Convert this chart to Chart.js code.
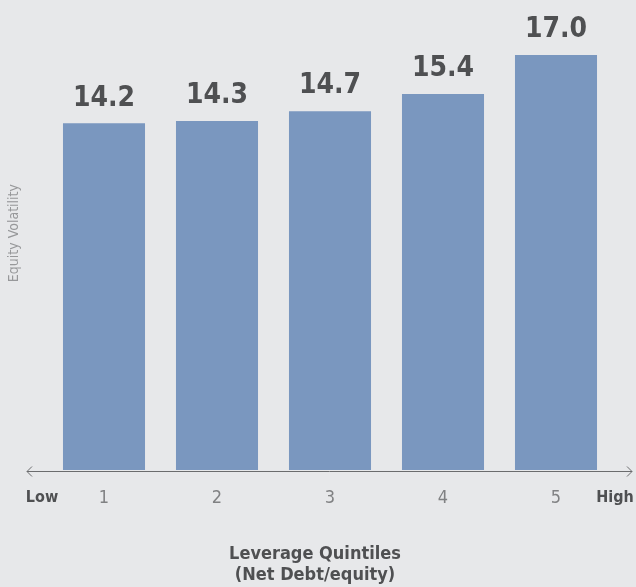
<!DOCTYPE html>
<html>
<head>
<meta charset="utf-8">
<script src="https://cdn.jsdelivr.net/npm/chart.js@4/dist/chart.umd.min.js"></script>
<style>
  html, body { margin: 0; padding: 0; background: #e7e8ea; }
  #wrap { width: 636px; height: 587px; position: relative; }
</style>
</head>
<body>
<div id="wrap"><canvas id="c" width="636" height="587"></canvas></div>
<script>
const categories = ['1', '2', '3', '4', '5'];
const volatility = [14.2, 14.3, 14.7, 15.4, 17.0];
const xTitle = ['Leverage Quintiles', '(Net Debt/equity)'];
const yTitle = 'Equity Volatility';
const lowLabel = 'Low';
const highLabel = 'High';

const FONT = '"Liberation Sans Narrow", "DejaVu Sans Condensed", "Liberation Sans", sans-serif';

const decor = {
  id: 'decor',
  afterDatasetsDraw(chart) {
    const ctx = chart.ctx;
    const area = chart.chartArea;
    const meta = chart.getDatasetMeta(0);
    ctx.save();
    // value labels
    ctx.fillStyle = '#4f5052';
    ctx.font = 'bold 28px ' + FONT;
    ctx.textAlign = 'center';
    ctx.textBaseline = 'middle';
    meta.data.forEach((bar, i) => {
      ctx.fillText(volatility[i].toFixed(1), bar.x, bar.y - 25);
    });
    // axis line with arrows
    const y = area.bottom + 1;
    const x0 = 27, x1 = 632;
    ctx.strokeStyle = '#6b6c6e';
    ctx.lineWidth = 1;
    ctx.beginPath();
    ctx.moveTo(x0, y + 0.5); ctx.lineTo(x1, y + 0.5);
    ctx.moveTo(x0 + 5, y - 4.5); ctx.lineTo(x0, y + 0.5); ctx.lineTo(x0 + 5, y + 5.5);
    ctx.moveTo(x1 - 5, y - 4.5); ctx.lineTo(x1, y + 0.5); ctx.lineTo(x1 - 5, y + 5.5);
    ctx.stroke();
    // Low / High
    ctx.fillStyle = '#4f5052';
    ctx.font = 'bold 16px ' + FONT;
    ctx.fillText(lowLabel, 42, 498);
    ctx.fillText(highLabel, 615, 498);
    // x title (two lines)
    ctx.font = 'bold 18px ' + FONT;
    ctx.fillText(xTitle[0], 315, 554);
    ctx.fillText(xTitle[1], 315, 575);
    // y title
    ctx.translate(14, (area.top + area.bottom) / 2 - 5);
    ctx.rotate(-Math.PI / 2);
    ctx.fillStyle = '#97989a';
    ctx.font = '14px ' + FONT;
    ctx.fillText(yTitle, 0, 0);
    ctx.restore();
  }
};

new Chart(document.getElementById('c'), {
  type: 'bar',
  data: {
    labels: categories,
    datasets: [{
      data: volatility,
      backgroundColor: '#7a97bf',
      borderWidth: 0,
      barPercentage: 0.726,
      categoryPercentage: 1.0
    }]
  },
  options: {
    responsive: false,
    animation: false,
    devicePixelRatio: 1,
    layout: { padding: { left: 47.5, right: 23.5, top: 6.2, bottom: 59.4 } },
    plugins: { legend: { display: false }, tooltip: { enabled: false } },
    scales: {
      x: {
        grid: { display: false, drawTicks: false },
        border: { display: false },
        ticks: { color: '#808183', font: { family: FONT, size: 18 }, padding: 18 },
        title: { display: false }
      },
      y: {
        display: false,
        min: 0,
        max: 19
      }
    }
  },
  plugins: [decor]
});
</script>
</body>
</html>
